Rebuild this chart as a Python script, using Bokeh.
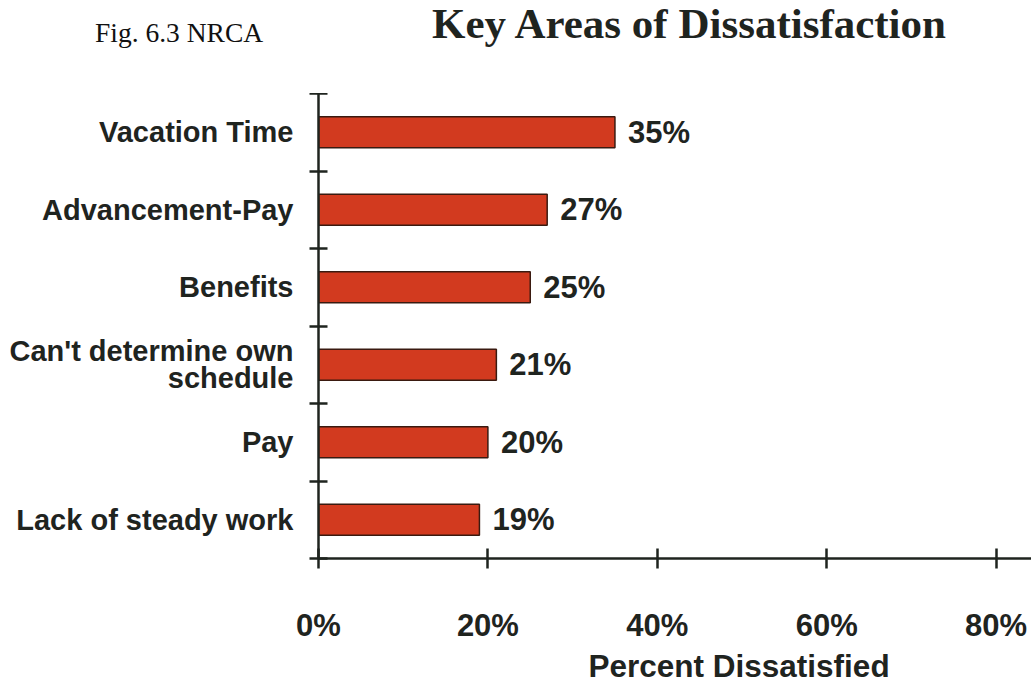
from bokeh.plotting import figure
from bokeh.layouts import column
from bokeh.models import Range1d, FixedTicker, Div, Title
from bokeh.core.properties import value
from bokeh.embed import file_html
from bokeh.resources import INLINE

# ---- data ----
categories = ["Vacation Time", "Advancement-Pay", "Benefits",
              "Can't determine own\nschedule", "Pay", "Lack of steady work"]
percent = [35, 27, 25, 21, 20, 19]
x_ticks = [0, 20, 40, 60, 80]
x_tick_labels = ["0%", "20%", "40%", "60%", "80%"]
value_labels = [f"{v}%" for v in percent]

title_text = "Key Areas of Dissatisfaction"
fig_text = "Fig. 6.3 NRCA"
xlabel_text = "Percent Dissatisfied"

# ---- layout ----
W = 1031
H_HEAD = 93
H_MAIN = 685 - H_HEAD
LEFT = 318
BOTTOM = H_MAIN - 465
PX_PER_PCT = 8.47
n = len(categories)
xmax = (W - LEFT) / PX_PER_PCT
ypos = [n - 0.5 - i for i in range(n)]

INK = "#1f241f"
SANS = "Liberation Sans"
SERIF = "Liberation Serif"

head_html = (
    f'<div style="position:relative;width:{W}px;height:{H_HEAD}px;">'
    f'<span style="position:absolute;left:95px;top:19px;white-space:nowrap;'
    f'font-family:\'{SERIF}\';font-size:27.5px;line-height:1;color:#111111;">{fig_text}</span>'
    f'<span style="position:absolute;left:432px;top:2px;white-space:nowrap;'
    f'font-family:\'{SERIF}\';font-weight:bold;font-size:43px;line-height:1;color:{INK};">{title_text}</span>'
    '</div>'
)
head = Div(text=head_html, width=W, height=H_HEAD, margin=0)

p = figure(width=W, height=H_MAIN, x_range=Range1d(0, xmax), y_range=Range1d(0, n),
           output_backend="svg", toolbar_location=None, title=None,
           min_border_left=LEFT, min_border_right=0,
           min_border_top=0, min_border_bottom=BOTTOM)
p.xgrid.visible = False
p.ygrid.visible = False
p.outline_line_color = None
p.background_fill_color = "white"
p.border_fill_color = "white"

p.hbar(y=ypos, right=percent, left=0, height=0.4,
       fill_color="#d23a1f", line_color="#3a1a10", line_width=1.5)

p.text(x=percent, y=ypos, text=value_labels, x_offset=13,
       text_baseline="middle", text_align="left",
       text_font=value(SANS), text_font_style="bold",
       text_font_size="31px", text_color=INK)

ya = p.yaxis[0]
ya.ticker = FixedTicker(ticks=ypos, minor_ticks=list(range(n + 1)))
ya.major_label_overrides = {y: c for y, c in zip(ypos, categories)}
ya.major_tick_in = 0
ya.major_tick_out = 0
ya.minor_tick_in = 9
ya.minor_tick_out = 9
ya.minor_tick_line_color = INK
ya.minor_tick_line_width = 2.5
ya.axis_line_color = INK
ya.axis_line_width = 2.5
ya.major_label_standoff = 16
ya.major_label_text_font = SANS
ya.major_label_text_font_style = "bold"
ya.major_label_text_font_size = "29px"
ya.major_label_text_color = INK
ya.major_label_text_line_height = 0.85

xa = p.xaxis[0]
xa.ticker = FixedTicker(ticks=x_ticks, minor_ticks=[])
xa.major_label_overrides = {t: l for t, l in zip(x_ticks, x_tick_labels)}
xa.major_tick_in = 10
xa.major_tick_out = 10
xa.major_tick_line_color = INK
xa.major_tick_line_width = 2.5
xa.axis_line_color = INK
xa.axis_line_width = 2.5
xa.major_label_standoff = 39
xa.major_label_text_font = SANS
xa.major_label_text_font_style = "bold"
xa.major_label_text_font_size = "31px"
xa.major_label_text_color = INK

# x axis title placed below the axis, starting 270px right of 0%
p.add_layout(Title(text=xlabel_text, align="left", offset=270, standoff=0,
                   text_font=SANS, text_font_style="bold", text_font_size="31.5px",
                   text_line_height=0.85, text_color=INK), "below")

layout = column(head, p, spacing=0)
open("out.html", "w").write(file_html(layout, INLINE))
